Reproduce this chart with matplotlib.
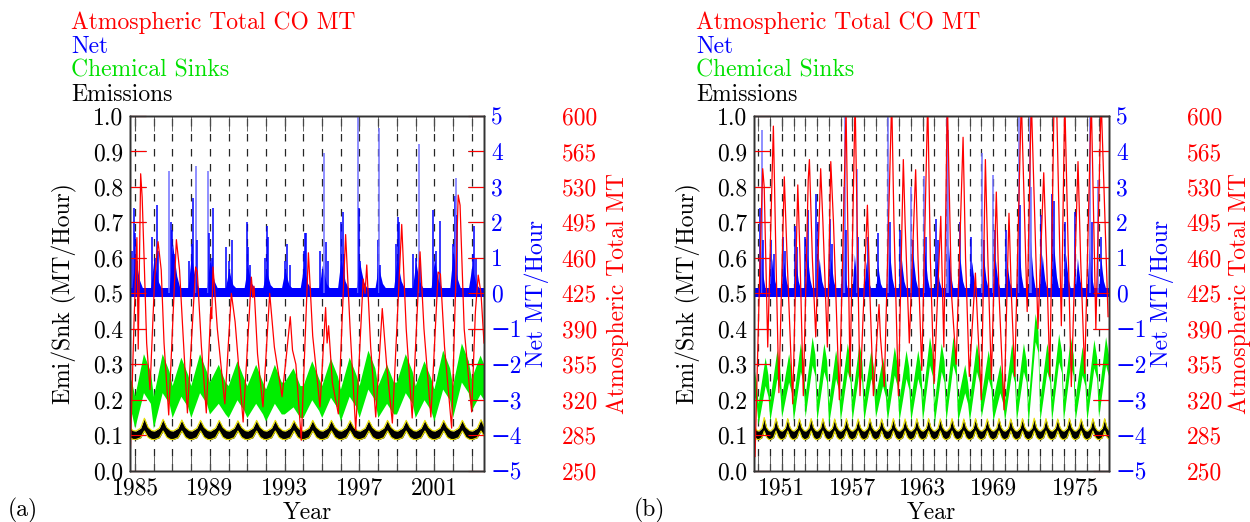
import numpy as np
import matplotlib.pyplot as plt

plt.rcParams['font.family'] = ['cmr10', 'DejaVu Serif']
plt.rcParams['font.size'] = 17
plt.rcParams['axes.unicode_minus'] = True

RED = '#ff0000'
BLUE = '#0000ff'
LBLUE = '#7070ff'
GREEN = '#00ee00'
YELLOW = '#e8e000'

# ---------------- panel (a) ----------------
xlim_a = (1984.73, 2003.66)
grid_a = list(range(1985, 2004))
xticks_a = [1985, 1989, 1993, 1997, 2001]
xticklabels_a = ['1985', '1989', '1993', '1997', '2001']

# Atmospheric total CO (MT), turning points of the red curve
atm_t_a = [1984.74, 1984.95, 1985.10, 1985.17, 1985.30, 1985.38, 1985.50, 1985.62, 1985.80,
           1986.05, 1986.23, 1986.40, 1986.55, 1986.80,
           1987.21, 1987.38, 1987.55, 1987.80,
           1988.24, 1988.33, 1988.55, 1988.81,
           1989.05, 1989.10, 1989.17, 1989.40, 1989.80,
           1990.15, 1990.35, 1990.78,
           1991.22, 1991.30, 1991.36, 1991.55, 1991.84,
           1992.20, 1992.45, 1992.86,
           1993.10, 1993.30, 1993.42, 1993.60, 1993.89,
           1994.27, 1994.50, 1994.89,
           1995.19, 1995.27, 1995.35, 1995.55, 1995.87,
           1996.26, 1996.50, 1996.80,
           1997.20, 1997.30, 1997.39, 1997.60, 1997.87,
           1998.22, 1998.45, 1998.76,
           1999.26, 1999.50, 1999.82,
           2000.24, 2000.45, 2000.82,
           2001.21, 2001.33, 2001.55, 2001.93,
           2002.28, 2002.38, 2002.60, 2003.00,
           2003.20, 2003.35, 2003.50, 2003.66]
atm_v_a = [264, 400, 480, 370, 543, 520, 450, 376, 330,
           441, 476, 448, 376, 305,
           478, 448, 390, 307,
           451, 446, 372, 307,
           411, 400, 451, 390, 316,
           425, 397, 298,
           441, 421, 432, 365, 313,
           425, 372, 323,
           365, 402, 369, 355, 280,
           465, 383, 313,
           411, 376, 393, 337, 306,
           483, 390, 290,
           439, 425, 453, 372, 303,
           410, 355, 297,
           493, 390, 302,
           466, 390, 303,
           446, 444, 372, 292,
           522, 512, 390, 308,
           407, 443, 425, 376]

# Net (MT/hour): isolated spikes
net_spk_t_a = [1984.85, 1984.95, 1985.00, 1985.08, 1985.90, 1986.05, 1986.16, 1986.25,
               1986.84, 1986.90, 1987.00, 1987.10, 1987.90, 1988.05, 1988.12, 1988.25,
               1988.30, 1988.89, 1988.95, 1989.10, 1989.18, 1989.85, 1990.05, 1990.17,
               1990.97, 1991.05, 1991.15, 1991.95, 1992.04, 1992.10, 1993.00, 1993.14,
               1993.30, 1994.05, 1994.09, 1994.15, 1994.90, 1995.12, 1995.20, 1995.30,
               1996.01, 1996.13, 1996.20, 1996.94, 1996.97, 1997.05, 1998.00, 1998.05,
               1998.10, 1998.95, 1999.04, 1999.10, 1999.85, 2000.00, 2000.17, 2000.25,
               2000.95, 2001.10, 2001.30, 2002.00, 2002.11, 2002.14, 2002.20, 2003.05,
               2003.13, 2003.25]
net_spk_v_a = [1.2, 2.4, 1.7, 0.9, 1.6, 1.0, 2.5, 1.2,
               3.45, 2.0, 1.8, 1.1, 0.9, 1.4, 2.7, 3.6,
               1.5, 3.45, 1.7, 1.0, 2.4, 1.3, 0.9, 1.5,
               2.0, 1.3, 0.8, 1.0, 1.9, 1.6, 0.9, 1.4,
               0.8, 1.2, 1.7, 1.7, 1.2, 3.95, 1.45, 0.9,
               2.0, 2.3, 1.1, 5.2, 2.4, 0.9, 1.5, 4.65,
               0.8, 1.4, 2.15, 2.0, 1.1, 1.0, 4.2, 1.0,
               2.35, 1.2, 2.05, 1.4, 2.75, 3.25, 2.2, 1.1,
               1.9, 1.0]
# Net: height of the dense cluster at the start of each year
net_burst_a = [1.1, 1.0, 1.4, 1.1, 1.0, 0.7, 0.8, 0.7, 0.7, 0.8,
               0.8, 1.0, 0.9, 0.8, 1.0, 0.9, 1.0, 1.2, 0.8]

# Chemical sinks: yearly top (mid-year) and bottom (January) of the band
cyc_a = list(range(1984, 2004))
sink_top_a = [0.30, 0.33, 0.33, 0.32, 0.33, 0.30, 0.31, 0.30, 0.30, 0.29,
              0.31, 0.317, 0.32, 0.34, 0.30, 0.33, 0.31, 0.34, 0.36, 0.326]
sink_bot_a = [0.16, 0.12, 0.12, 0.15, 0.15, 0.16, 0.15, 0.15, 0.14, 0.16,
              0.15, 0.15, 0.14, 0.15, 0.15, 0.16, 0.15, 0.14, 0.15, 0.17]
# Emissions: yearly peak
emi_top_a = [0.142, 0.148, 0.145, 0.143, 0.142, 0.142, 0.141, 0.142, 0.142, 0.141,
             0.142, 0.142, 0.141, 0.142, 0.142, 0.142, 0.142, 0.142, 0.142, 0.144]

# ---------------- panel (b) ----------------
xlim_b = (1948.63, 1978.87)
grid_b = list(range(1949, 1979))
xticks_b = [1951, 1957, 1963, 1969, 1976]
xticklabels_b = ['1951', '1957', '1963', '1969', '1975']

atm_t_b = [1948.72, 1949.15, 1949.37, 1949.50, 1949.80, 1950.28, 1950.50, 1950.75,
           1951.21, 1951.45, 1951.93,
           1952.36, 1952.55, 1952.83,
           1953.25, 1953.35, 1953.60, 1953.89,
           1954.31, 1954.50, 1954.88,
           1955.17, 1955.40, 1955.90,
           1956.47, 1956.81, 1957.24, 1957.66,
           1958.29, 1958.50, 1958.80,
           1959.28, 1959.40, 1959.73,
           1960.36, 1960.55, 1960.93,
           1961.35, 1961.50, 1961.86,
           1962.40, 1962.60, 1962.92,
           1963.43, 1963.65, 1963.97,
           1964.54, 1964.80, 1965.10, 1965.45, 1965.85,
           1966.44, 1966.65, 1966.97,
           1967.49, 1967.70, 1968.00,
           1968.34, 1968.55, 1968.85,
           1969.27, 1969.50, 1969.93,
           1970.35, 1970.55, 1970.84,
           1971.40, 1971.90, 1972.25, 1972.82,
           1973.31, 1973.55, 1973.83,
           1974.19, 1974.40, 1974.81, 1975.10, 1975.66,
           1976.23, 1976.45, 1976.80,
           1977.36, 1977.75, 1978.20, 1978.79]
atm_v_b = [264, 460, 548, 530, 372, 590, 460, 327,
           540, 460, 316,
           532, 460, 324,
           537, 557, 460, 382,
           548, 495, 372,
           555, 495, 320,
           607, 343, 617, 324,
           512, 425, 324,
           414, 382, 333,
           617, 495, 324,
           557, 495, 376,
           547, 460, 349,
           617, 460, 336,
           501, 372, 617, 425, 355,
           579, 460, 343,
           445, 390, 320,
           557, 460, 340,
           525, 425, 310,
           504, 425, 343,
           617, 407, 617, 390,
           544, 460, 343,
           617, 617, 393, 617, 333,
           555, 460, 346,
           617, 390, 617, 402]

net_spk_t_b = [1949.10, 1949.29, 1949.40, 1950.10, 1950.30, 1951.10, 1951.30, 1952.10,
               1952.30, 1953.00, 1953.20, 1953.90, 1954.10, 1955.10, 1955.30, 1956.30,
               1956.38, 1956.50, 1957.38, 1957.50, 1958.30, 1959.20, 1960.07, 1960.20,
               1961.10, 1962.00, 1962.20, 1963.10, 1963.30, 1964.10, 1964.30, 1965.05,
               1965.15, 1966.20, 1967.10, 1968.05, 1968.20, 1969.00, 1969.20, 1970.10,
               1971.23, 1971.30, 1972.14, 1972.20, 1973.10, 1974.00, 1974.20, 1975.10,
               1976.00, 1977.25, 1977.40, 1977.96, 1978.20]
net_spk_v_b = [2.4, 4.6, 1.5, 1.5, 1.1, 1.6, 1.2, 1.9,
               1.3, 1.6, 2.35, 2.8, 2.0, 2.1, 1.4, 3.0,
               5.3, 1.8, 3.5, 1.6, 1.6, 1.7, 5.3, 2.0,
               1.8, 3.0, 1.5, 3.3, 1.6, 2.1, 1.5, 5.3,
               4.6, 2.0, 1.6, 3.95, 1.5, 3.34, 1.8, 1.8,
               5.3, 2.5, 5.3, 3.0, 2.2, 2.8, 2.6, 2.0,
               2.3, 5.3, 2.0, 3.2, 1.6]
net_burst_b = [1.4, 1.0, 0.9, 1.0, 1.1, 1.0, 1.0, 1.3, 1.1, 0.9,
               0.8, 1.2, 1.0, 1.1, 1.2, 1.0, 1.4, 1.0, 0.9, 1.1,
               1.0, 0.9, 1.4, 1.5, 1.1, 1.3, 1.1, 1.0, 1.3, 1.0]

cyc_b = list(range(1948, 1979))
sink_top_b = [0.30, 0.32, 0.34, 0.33, 0.36, 0.378, 0.36, 0.34, 0.36, 0.36,
              0.34, 0.32, 0.35, 0.34, 0.34, 0.378, 0.36, 0.378, 0.30, 0.36,
              0.34, 0.30, 0.36, 0.36, 0.444, 0.36, 0.387, 0.378, 0.35, 0.37, 0.378]
sink_bot_b = [0.18, 0.13, 0.14, 0.15, 0.14, 0.15, 0.14, 0.13, 0.14, 0.14,
              0.14, 0.15, 0.14, 0.14, 0.14, 0.14, 0.13, 0.14, 0.14, 0.14,
              0.15, 0.14, 0.14, 0.14, 0.13, 0.14, 0.14, 0.14, 0.14, 0.14, 0.15]
emi_top_b = [0.140, 0.150, 0.148, 0.147, 0.146, 0.147, 0.147, 0.146, 0.147, 0.146,
             0.147, 0.146, 0.147, 0.146, 0.147, 0.147, 0.146, 0.147, 0.146, 0.147,
             0.146, 0.147, 0.146, 0.147, 0.148, 0.147, 0.146, 0.147, 0.146, 0.147, 0.147]


def sink_band(cycles, top, bot, peak_off, width):
    t, lo, hi = [], [], []
    for c, tp, bt in zip(cycles, top, bot):
        t += [c - 0.02, c + peak_off, c + 0.82]
        lo += [bt, tp - width, tp - width - 0.03]
        hi += [bt + width - 0.02, tp, tp - 0.05]
    return t, lo, hi


def emi_band(cycles, top):
    t, lo, hi = [], [], []
    for c, tp in zip(cycles, top):
        t += [c + 0.05, c + 0.3, c + 0.5, c + 0.7, c + 0.9]
        lo += [0.088, 0.093, 0.112, 0.094, 0.088]
        hi += [0.112, 0.120, tp, 0.122, 0.113]
    return t, lo, hi


def burst(cycles, amp, shift):
    t, hi = [], []
    for c, a in zip(cycles, amp):
        c = c + shift
        t += [c - 0.12, c - 0.02, c + 0.06, c + 0.15, c + 0.28, c + 0.45]
        hi += [0.15, 0.6 * a, a, 0.7 * a, 0.35 * a, 0.15]
    return t, hi


def panel(ax, xlim, grid, xticks, xticklabels, atm_t, atm_v, spk_t, spk_v, bursts,
          cyc, s_top, s_bot, e_top, sink_peak, sink_w, burst_shift, atm_lab_x):
    axn = ax.twinx()
    axm = ax.twinx()

    for g in grid:
        ax.axvline(g, color='0.15', lw=0.9, ls=(0, (6, 6)), zorder=0)

    # chemical sinks and emissions on the left scale
    t, lo, hi = sink_band(cyc, s_top, s_bot, sink_peak, sink_w)
    ax.fill_between(t, lo, hi, color=GREEN, lw=0, zorder=2)
    t, lo, hi = emi_band(cyc, e_top)
    ax.fill_between(t, lo, hi, color='black', lw=0, zorder=3)
    ax.plot(t, lo, color=YELLOW, lw=0.8, zorder=3)
    ax.plot(t, hi, color=YELLOW, lw=0.8, zorder=3)

    # net on its own scale
    axn.fill_between(xlim, -0.1, 0.15, color=BLUE, lw=0)
    t, hi = burst(grid[:len(bursts)], bursts, burst_shift)
    axn.fill_between(t, -0.05, hi, color=BLUE, lw=0)
    spk_c = [BLUE if v < 3 else LBLUE for v in spk_v]
    axn.vlines(spk_t, 0, spk_v, colors=spk_c, lw=1.1)

    # atmospheric total on the third scale
    axm.plot(atm_t, atm_v, color=RED, lw=0.9)

    ax.set_xlim(*xlim)
    ax.set_ylim(0, 1)
    axn.set_ylim(-5, 5)
    axm.set_ylim(250, 600)

    ax.set_xticks(xticks)
    ax.set_xticklabels(xticklabels)
    ax.set_xticks(grid, minor=True)
    ax.tick_params(axis='x', which='both', direction='in', length=11, top=True,
                   color='0.3', pad=5)
    ax.set_yticks(np.arange(0, 1.01, 0.1))
    ax.set_yticklabels(['%.1f' % v for v in np.arange(0, 1.01, 0.1)])
    ax.tick_params(axis='y', direction='in', length=11.5, right=False, pad=5)

    axn.set_yticks(range(-5, 6))
    axn.tick_params(axis='y', direction='in', length=11.5, labelcolor=BLUE, pad=5)
    axm.set_yticks(range(250, 601, 35))
    axm.tick_params(axis='y', direction='in', length=11.5, color=RED, labelcolor=RED,
                    left=True, right=True, labelleft=False, labelright=True, pad=56)

    ax.set_ylabel('Emi/Snk (MT/Hour)')
    ax.yaxis.set_label_coords(-0.15, 0.5)
    axn.set_ylabel('Net MT/Hour', color=BLUE)
    axn.yaxis.set_label_coords(1.113, 0.5)
    axm.set_ylabel('Atmospheric Total MT', color=RED)
    axm.yaxis.set_label_coords(atm_lab_x, 0.5)
    ax.set_xlabel('Year', va='baseline')
    ax.xaxis.set_label_coords(0.5, -0.137)

    for a in (ax, axn, axm):
        for s in a.spines.values():
            s.set_linewidth(1.0)
            s.set_color('0.2')


fig = plt.figure(figsize=(12.5, 5.22), dpi=100)
ax_a = fig.add_axes([130 / 1250, 51.3 / 522, 354 / 1250, 354.7 / 522])
ax_b = fig.add_axes([754 / 1250, 51.3 / 522, 355 / 1250, 354.7 / 522])

panel(ax_a, xlim_a, grid_a, xticks_a, xticklabels_a, atm_t_a, atm_v_a,
      net_spk_t_a, net_spk_v_a, net_burst_a, cyc_a, sink_top_a, sink_bot_a, emi_top_a,
      0.45, 0.11, -0.05, 1.347)
panel(ax_b, xlim_b, grid_b, xticks_b, xticklabels_b, atm_t_b, atm_v_b,
      net_spk_t_b, net_spk_v_b, net_burst_b, cyc_b, sink_top_b, sink_bot_b, emi_top_b,
      0.58, 0.08, 0.12, 1.336)

legend_txt = ['Atmospheric Total CO MT', 'Net', 'Chemical Sinks', 'Emissions']
legend_col = [RED, BLUE, '#00e000', 'black']
for x0 in (71, 696):
    for i, (s, c) in enumerate(zip(legend_txt, legend_col)):
        fig.text(x0 / 1250, 1 - (28.5 + 24.1 * i) / 522, s, color=c, va='baseline', ha='left')

fig.text(8 / 1250, 1 - 516 / 522, '(a)', va='baseline', ha='left')
fig.text(634 / 1250, 1 - 516 / 522, '(b)', va='baseline', ha='left')

fig.savefig('out.png', dpi=100)
